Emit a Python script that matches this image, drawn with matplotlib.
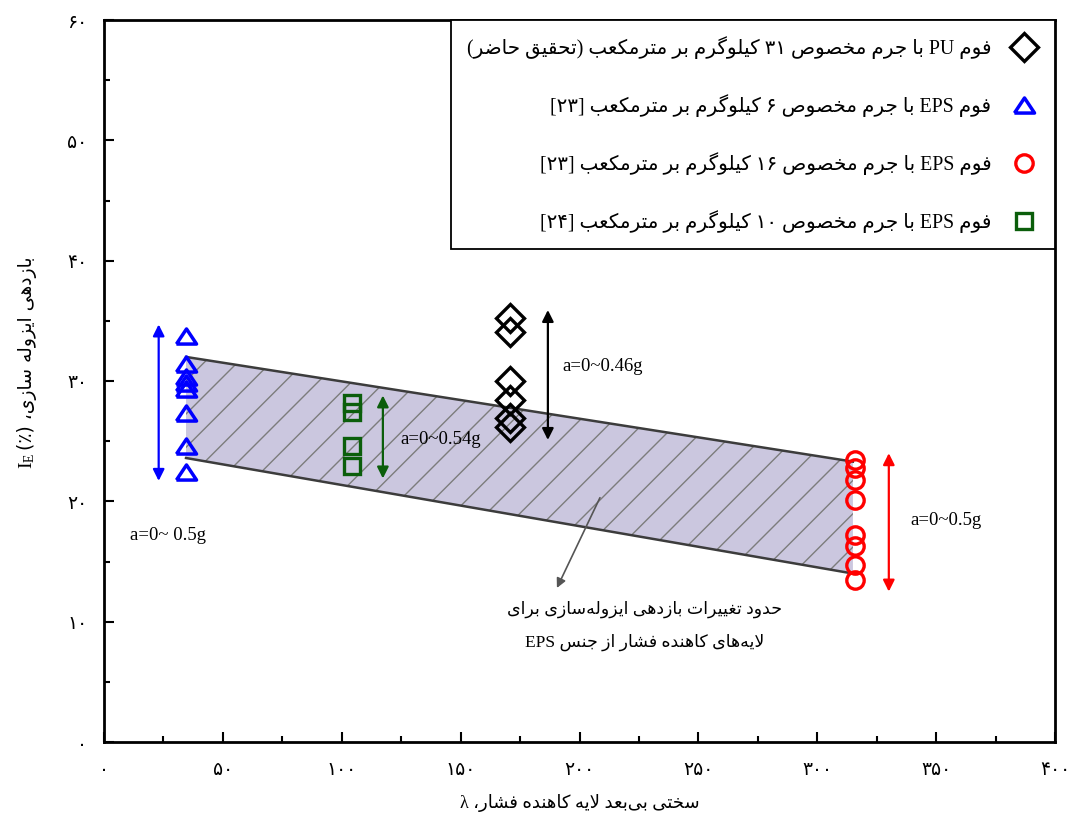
import re
import matplotlib
matplotlib.use("Agg")
import matplotlib.pyplot as plt
from matplotlib.font_manager import FontProperties

# ---------------------------------------------------------------- data
pu_x = 170.7
pu_y = [35.2, 34.1, 30.0, 28.4, 26.9, 26.2]

eps6_x = 34.5
eps6_y = [33.7, 31.4, 30.3, 29.8, 29.3, 27.3, 24.6, 22.4]

eps16_x = 316.0
eps16_y = [23.4, 22.8, 21.8, 20.1, 17.2, 16.3, 14.7, 13.5]

eps10_x = 104.3
eps10_y = [28.2, 27.4, 24.6, 22.9]

# EPS envelope (upper and lower bounds)
band_x = [34.5, 315.0]
band_top = [32.0, 23.3]
band_bot = [23.6, 14.0]

# acceleration ranges: (x, y_low, y_high)
range_eps6 = (23.0, 21.7, 34.7)
range_eps10 = (117.3, 21.9, 28.8)
range_pu = (186.7, 25.1, 35.9)
range_eps16 = (330.1, 12.5, 24.0)

x_ticks = [0, 50, 100, 150, 200, 250, 300, 350, 400]
y_ticks = [0, 10, 20, 30, 40, 50, 60]

legend_labels = [
    "فوم PU با جرم مخصوص ۳۱ کیلوگرم بر مترمکعب (تحقیق حاضر)",
    "فوم EPS با جرم مخصوص ۶ کیلوگرم بر مترمکعب [۲۳]",
    "فوم EPS با جرم مخصوص ۱۶ کیلوگرم بر مترمکعب [۲۳]",
    "فوم EPS با جرم مخصوص ۱۰ کیلوگرم بر مترمکعب [۲۴]",
]
band_note = ["حدود تغییرات بازدهی ایزوله‌سازی برای",
             "لایه‌های کاهنده فشار از جنس EPS"]
x_label = "سختی بی‌بعد لایه کاهنده فشار، λ"
y_label = "بازدهی ایزوله سازی، (٪)"

# ---------------------------------------------------------------- Persian text helpers
# contextual forms: base code point of (isolated, final, initial, medial)
DUAL = {'ب': 0xFE8F, 'ت': 0xFE95, 'ث': 0xFE99, 'ج': 0xFE9D, 'ح': 0xFEA1,
        'خ': 0xFEA5, 'س': 0xFEB1, 'ش': 0xFEB5, 'ص': 0xFEB9, 'ض': 0xFEBD,
        'ط': 0xFEC1, 'ظ': 0xFEC5, 'ع': 0xFEC9, 'غ': 0xFECD, 'ف': 0xFED1,
        'ق': 0xFED5, 'ل': 0xFEDD, 'م': 0xFEE1, 'ن': 0xFEE5, 'ه': 0xFEE9,
        'ي': 0xFEF1, 'ئ': 0xFE89, 'پ': 0xFB56, 'چ': 0xFB7A, 'ک': 0xFB8E,
        'گ': 0xFB92, 'ی': 0xFBFC}
RIGHT = {'ا': 0xFE8D, 'آ': 0xFE81, 'أ': 0xFE83, 'إ': 0xFE87, 'ؤ': 0xFE85,
         'د': 0xFEA9, 'ذ': 0xFEAB, 'ر': 0xFEAD, 'ز': 0xFEAF, 'ژ': 0xFB8A,
         'و': 0xFEED, 'ة': 0xFE93}
LAM_ALEF = {'ا': 0xFEFB, 'آ': 0xFEF5, 'أ': 0xFEF7, 'إ': 0xFEF9}
MIRROR = {'(': ')', ')': '(', '[': ']', ']': '['}
LTR_RUN = r'[A-Za-z0-9\u06F0-\u06F9\u03BB]'
PERSIAN_DIGITS = str.maketrans('0123456789', '۰۱۲۳۴۵۶۷۸۹')


def shape(s):
    out = []
    n = len(s)
    i = 0
    while i < n:
        c = s[i]
        prev = s[i - 1] if i > 0 else ''
        jp = prev in DUAL and (c in DUAL or c in RIGHT)
        if c == 'ل' and i + 1 < n and s[i + 1] in LAM_ALEF:
            out.append(chr(LAM_ALEF[s[i + 1]] + (1 if jp else 0)))
            i += 2
            continue
        nxt = s[i + 1] if i + 1 < n else ''
        jn = c in DUAL and (nxt in DUAL or nxt in RIGHT)
        if c in DUAL:
            out.append(chr(DUAL[c] + (3 if jp and jn else 1 if jp else 2 if jn else 0)))
        elif c in RIGHT:
            out.append(chr(RIGHT[c] + (1 if jp else 0)))
        elif c == '\u200c':
            pass
        else:
            out.append(c)
        i += 1
    return ''.join(out)


def rtl(s):
    tokens = re.findall(LTR_RUN + '+|.', shape(s))
    return ''.join(t if re.match(LTR_RUN, t) else MIRROR.get(t, t)
                   for t in reversed(tokens))


MIXED = ['Liberation Serif', 'DejaVu Sans']
SANS = ['DejaVu Sans']

# wide, low triangle used for the 6 kg/m3 series
TRIANGLE = [(-1.0, -0.75), (1.0, -0.75), (0.0, 0.75), (-1.0, -0.75)]

# ---------------------------------------------------------------- figure
plt.rcParams['hatch.color'] = '#7c7c7c'
plt.rcParams['hatch.linewidth'] = 1.0

fig = plt.figure(figsize=(10.69, 8.17), dpi=100)
ax = fig.add_axes([104 / 1069, 1 - 742 / 817, (1055 - 104) / 1069, (742 - 20) / 817])

# EPS envelope
ax.fill_between(band_x, band_bot, band_top, facecolor='#cbc7df', hatch='/',
                linewidth=0, zorder=1)
ax.plot(band_x, band_top, color='#3c3c3c', lw=1.8, zorder=2)
ax.plot(band_x, band_bot, color='#3c3c3c', lw=1.8, zorder=2)

# measured points
h_pu, = ax.plot([pu_x] * len(pu_y), pu_y, ls='none', marker='D', ms=14.5,
                mfc='none', mec='black', mew=2.4, zorder=5)
h_e6, = ax.plot([eps6_x] * len(eps6_y), eps6_y, ls='none', marker=TRIANGLE, ms=14.5,
                mfc='none', mec='#0000ff', mew=2.5, zorder=5)
h_e16, = ax.plot([eps16_x] * len(eps16_y), eps16_y, ls='none', marker='o', ms=12.5,
                 mfc='none', mec='#ff0000', mew=2.4, zorder=5)
h_e10, = ax.plot([eps10_x] * len(eps10_y), eps10_y, ls='none', marker='s', ms=11,
                 mfc='none', mec='#0b5e0b', mew=2.4, zorder=5)

# acceleration range arrows
for (xa, y0, y1), col in [(range_eps6, '#0000ff'), (range_eps10, '#0b5e0b'),
                          (range_pu, 'black'), (range_eps16, '#ff0000')]:
    ax.annotate('', xy=(xa, y1), xytext=(xa, y0),
                arrowprops=dict(arrowstyle='<|-|>', color=col, lw=1.6,
                                mutation_scale=17, shrinkA=0, shrinkB=0),
                zorder=4)

serif = dict(family='Liberation Serif', fontsize=13.5, va='center', ha='left')
ax.text(10.9, 17.2, 'a=0~ 0.5g', **serif)
ax.text(124.5, 25.1, 'a=0~0.54g', **serif)
ax.text(193.0, 31.2, 'a=0~0.46g', **serif)
ax.text(339.0, 18.4, 'a=0~0.5g', **serif)

# envelope note with pointer
ax.annotate('', xy=(190.5, 12.8), xytext=(208.6, 20.3),
            arrowprops=dict(arrowstyle='-|>', color='#555555', lw=1.2,
                            mutation_scale=14, shrinkA=0, shrinkB=0), zorder=4)
ax.text(227.5, 11.0, rtl(band_note[0]), family=MIXED, fontsize=12.5,
        ha='center', va='center')
ax.text(227.5, 8.3, rtl(band_note[1]), family=MIXED, fontsize=12.5,
        ha='center', va='center')

# axes
ax.set_xlim(0, 400)
ax.set_ylim(0, 60)
ax.set_xticks(x_ticks)
ax.set_xticklabels([str(v).translate(PERSIAN_DIGITS) for v in x_ticks],
                   family=SANS, fontsize=13.5)
ax.set_yticks(y_ticks)
ax.set_yticklabels([str(v).translate(PERSIAN_DIGITS) for v in y_ticks],
                   family=SANS, fontsize=13.5)
ax.set_xticks(range(25, 400, 50), minor=True)
ax.set_yticks(range(5, 60, 10), minor=True)
ax.tick_params(which='both', direction='in', top=False, right=False, width=1.5)
ax.tick_params(which='major', length=7)
ax.tick_params(axis='x', which='major', pad=13)
ax.tick_params(axis='y', which='major', pad=12)
ax.tick_params(which='minor', length=4)
for sp in ax.spines.values():
    sp.set_linewidth(2.0)

fig.text(580 / 1069, 1 - 803 / 817, rtl(x_label), family=MIXED, fontsize=13,
         ha='center', va='center')
fig.text(27 / 1069, 1 - 450 / 817, rtl(y_label), family=SANS, fontsize=13.5,
         rotation=90, ha='center', va='bottom')
fig.text(27 / 1069, 1 - 453 / 817, r'$\mathregular{I_E}$', family='Liberation Serif',
         fontsize=14, rotation=90, ha='center', va='top')

# legend with markers on the right-hand side
leg = ax.legend([h_pu, h_e6, h_e16, h_e10], [rtl(t) for t in legend_labels],
                loc='upper right', markerfirst=False, borderaxespad=0,
                fancybox=False, edgecolor='black', framealpha=1,
                prop=FontProperties(family=MIXED, size=14.3),
                labelspacing=1.78, borderpad=0.8, handlelength=1.5,
                handletextpad=0.9)
leg.get_frame().set_linewidth(1.3)

fig.savefig('out.png', dpi=100)
